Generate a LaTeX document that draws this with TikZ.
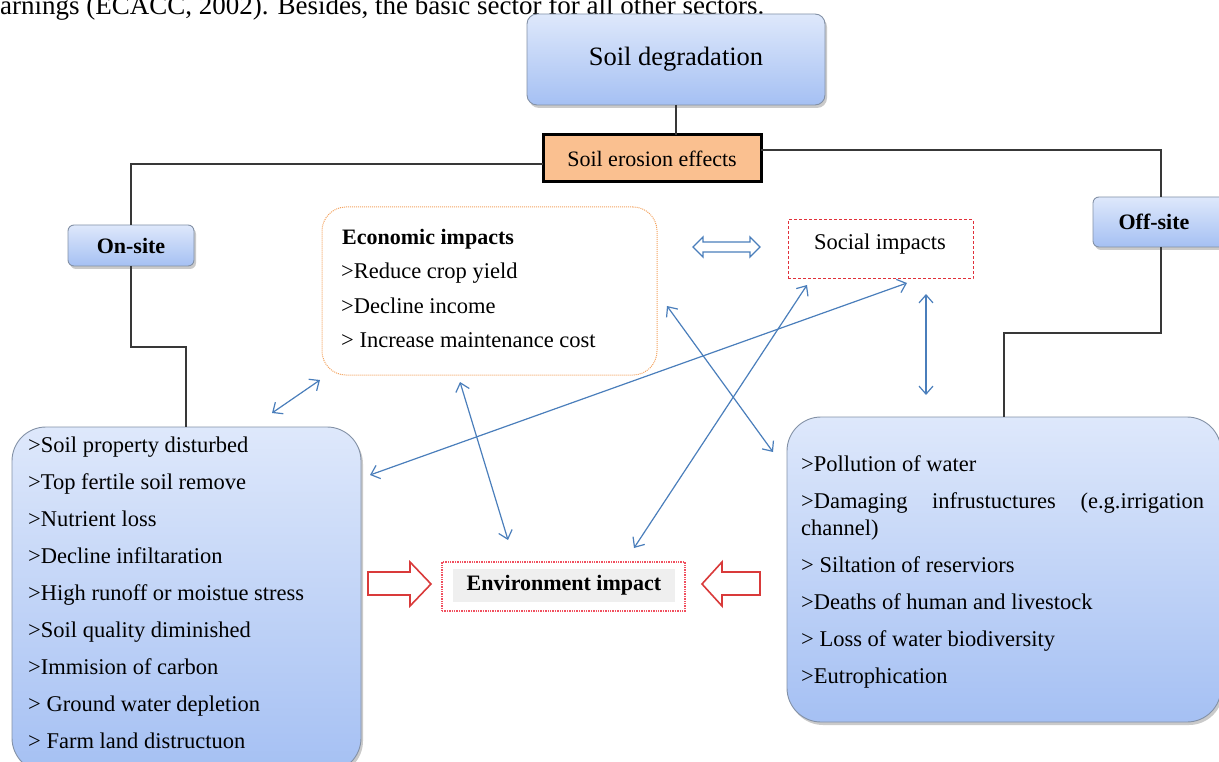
\documentclass[tikz,border=0pt]{standalone}
\usepackage{fontspec}
\setmainfont{Liberation Serif}
\usetikzlibrary{arrows.meta,shadows,calc}
\definecolor{btop}{HTML}{DEE8FB}
\definecolor{bbot}{HTML}{A5C0F3}
\definecolor{bborder}{HTML}{8391A6}
\definecolor{peach}{HTML}{FAC090}
\definecolor{conn}{HTML}{383838}
\definecolor{orangeb}{HTML}{F4A460}
\definecolor{redb}{HTML}{E0303A}
\definecolor{pinkb}{HTML}{F0505F}
\definecolor{arrblue}{HTML}{4A7EBB}
\definecolor{hollowred}{HTML}{D93A3A}
\definecolor{hl}{HTML}{EFEFEF}
\begin{document}
\begin{tikzpicture}[x=1pt,y=-1pt,
  bluebox/.style={draw=bborder, line width=0.9pt, top color=btop, bottom color=bbot,
    drop shadow={shadow xshift=2pt, shadow yshift=-3pt, opacity=0.35, fill=black!60},
    inner sep=0pt, outer sep=0pt},
  erobox/.style={draw=black, line width=3pt, fill=peach, inner sep=0pt, outer sep=0pt},
  econbox/.style={draw=orangeb, line width=1pt, densely dotted, rounded corners=24pt, fill=white, inner sep=0pt},
  socbox/.style={draw=redb, line width=1pt, dash pattern=on 3pt off 2pt, inner sep=0pt},
  envbox/.style={draw=pinkb, line width=1.4pt, densely dotted, inner sep=0pt},
  link/.style={draw=conn, line width=1.6pt},
  barrow/.style={draw=arrblue, line width=1.2pt,
    arrows={Straight Barb[length=8pt,width=14pt]-Straight Barb[length=8pt,width=14pt]}},
  bodytext/.style={font=\fontsize{22.5}{26}\selectfont, inner sep=0pt, anchor=base west},
  hollowred/.style={draw=hollowred, line width=1.6pt, fill=white, line join=miter},
  hollowblue/.style={draw=arrblue, line width=1.3pt, fill=white, line join=miter}
]
\useasboundingbox (0,0) rectangle (1219,762);
\clip (0,0) rectangle (1219,762);

% header text (top cut off, as in the reference)
\node[font=\fontsize{27}{30}\selectfont, inner sep=0pt, anchor=base west] (hdr) at (0,15)
  {arnings (ECACC, 2002). Besides, the basic sector for all other sectors.};

% main boxes
\node[bluebox, rounded corners=10pt, minimum width=298pt, minimum height=91pt,
  font=\fontsize{26.5}{30}\selectfont] (sd) at (676,59.5) {Soil degradation};
\node[erobox, minimum width=218pt, minimum height=47pt,
  font=\fontsize{22}{26}\selectfont] (ee) at (652,158.5) {Soil erosion effects};
\node[bluebox, rounded corners=6pt, minimum width=126pt, minimum height=41pt,
  font=\fontsize{22}{26}\selectfont\bfseries] (onsite) at (131,245.5) {On-site};
\node[bluebox, rounded corners=6pt, minimum width=136pt, minimum height=50pt,
  font=\fontsize{22}{26}\selectfont\bfseries] (offsite) at (1161,222) {\hspace*{-14pt}Off-site};

% connectors (tree)
\coordinate (lk) at (186,347);
\coordinate (rk) at (1004,333);
\draw[link] (sd.south) -- (sd.south |- ee.north);
\draw[link] ([yshift=-5.5pt]ee.west) -| (onsite.north);
\draw[link] ([yshift=8.5pt]ee.east) -| (offsite.north);

% left and right boxes
\node[bluebox, rounded corners=34pt, minimum width=349pt, minimum height=345pt, anchor=north west] (lbox) at (12,427) {};
\node[bluebox, rounded corners=34pt, minimum width=434pt, minimum height=305pt, anchor=north west] (rbox) at (787,417) {};
\draw[link] (onsite.south) |- (lk) -- (lk |- lbox.north);
\draw[link] (offsite.south) |- (rk) -- (rk |- rbox.north);

% economic box
\node[econbox, minimum width=335pt, minimum height=168pt] (econ) at (489.5,291) {};
\node[bodytext, font=\fontsize{22}{26}\selectfont\bfseries] (e0) at (342,245) {Economic impacts};
\node[bodytext] (e1) at (341,279) {>Reduce crop yield};
\node[bodytext] (e2) at (341,313) {>Decline income};
\node[bodytext] (e3) at (341,347) {> Increase maintenance cost};

% social box
\node[socbox, minimum width=185pt, minimum height=59pt] (soc) at (880.5,249.5) {};
\node[bodytext, anchor=base] (soct) at (880,250) {Social impacts};

% environment box
\node[envbox, minimum width=243pt, minimum height=49pt] (env) at (563.5,586.5) {};
\node[fill=hl, minimum width=222pt, minimum height=33pt, inner sep=0pt,
  font=\fontsize{22}{26}\selectfont\bfseries] (envt) at (564,585.5) {Environment impact};

% left box text
\foreach \t [count=\i] in {{>Soil property disturbed},{>Top fertile soil remove},{>Nutrient loss},
  {>Decline infiltaration},{>High runoff or moistue stress},{>Soil quality diminished},
  {>Immision of carbon},{> Ground water depletion},{> Farm land distructuon}}
  \node[bodytext] (l\i) at (28,{452+37*(\i-1)}) {\t};

% right box text
\node[bodytext] (r1) at (801,471) {>Pollution of water};
\node[bodytext] (r2) at (801,508) {\makebox[403pt][s]{>Damaging infrustuctures (e.g.irrigation}};
\node[bodytext] (r2b) at (801,535) {channel)};
\node[bodytext] (r3) at (801,572) {> Siltation of reserviors};
\node[bodytext] (r4) at (801,609) {>Deaths of human and livestock};
\node[bodytext] (r5) at (801,646) {> Loss of water biodiversity};
\node[bodytext] (r6) at (801,683) {>Eutrophication};

% hollow double arrow between economic and social
\draw[hollowblue] (693,247) -- (703,237) -- (703,242) -- (750,242) -- (750,237) -- (760,247)
  -- (750,257) -- (750,252) -- (703,252) -- (703,257) -- cycle;

% red hollow arrows pointing at environment impact
\draw[hollowred] (368,572) -- (410,572) -- (410,562) -- (431,584) -- (410,606) -- (410,595) -- (368,595) -- cycle;
\draw[hollowred] (760,572) -- (722,572) -- (722,562) -- (702,584) -- (722,606) -- (722,595) -- (760,595) -- cycle;

% blue double-headed arrows
\coordinate (a1s) at (272,413); \coordinate (a1e) at (320,380);
\coordinate (a2s) at (370,475); \coordinate (a2e) at (907,283);
\coordinate (a3s) at (460,382); \coordinate (a3e) at (508,540);
\coordinate (a4s) at (667,306); \coordinate (a4e) at (773,452);
\coordinate (a5s) at (807,285); \coordinate (a5e) at (634,548);
\coordinate (a6s) at (926,294); \coordinate (a6e) at (926,395);
\draw[barrow] (a1s) -- (a1e);
\draw[barrow] (a2s) -- (a2e);
\draw[barrow] (a3s) -- (a3e);
\draw[barrow] (a4s) -- (a4e);
\draw[barrow] (a5s) -- (a5e);
\draw[barrow] (a6s) -- (a6e);
\end{tikzpicture}
\end{document}
